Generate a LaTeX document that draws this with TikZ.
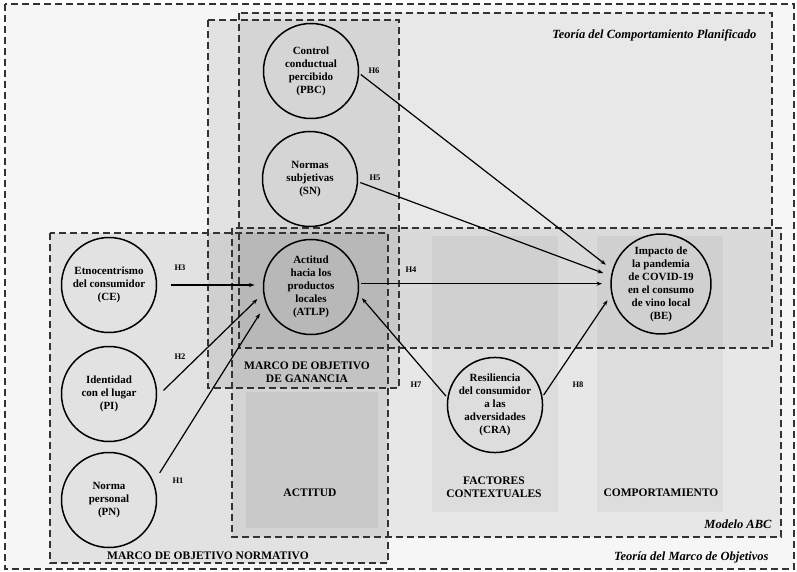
\documentclass[tikz,border=0pt]{standalone}
\usepackage{fontspec}
\setmainfont{Liberation Serif}
\usetikzlibrary{arrows.meta}

\begin{document}
\begin{tikzpicture}[x=1pt,y=-1pt,
    greyfill/.style={fill=black, fill opacity=#1},
    dashbox/.style={draw=black!80, line width=1.1pt, dash pattern=on 7pt off 4pt},
    construct/.style={circle, draw, line width=1.5pt, minimum size=95pt, inner sep=0pt, outer sep=0pt,
      align=center, font=\fontsize{11}{13}\selectfont\bfseries},
    hyp/.style={font=\fontsize{8.5}{10}\selectfont\bfseries},
    caption/.style={align=center, font=\fontsize{11.5}{13.5}\selectfont\bfseries},
    theory/.style={anchor=east, font=\fontsize{12.5}{15}\selectfont\bfseries\itshape},
    arr/.style={-{Stealth[length=5.5pt,width=4pt]}, line width=1.2pt, shorten <=3pt, shorten >=9pt}]

  \useasboundingbox (0,0) rectangle (797,572);
  \fill[white] (0,0) rectangle (797,572);

  % grey areas of the frameworks
  \fill[greyfill=0.035] (5,4) rectangle (794,569);
  \fill[greyfill=0.055] (239,13) rectangle (772,348);
  \fill[greyfill=0.06] (232,228) rectangle (781,537);
  \fill[greyfill=0.08] (208,20) rectangle (399,388);
  \fill[greyfill=0.08] (50,233) rectangle (388,563);
  % columns of the ABC model
  \fill[greyfill=0.05] (246,392) rectangle (378,528);
  \fill[greyfill=0.045] (432,236) rectangle (558,512);
  \fill[greyfill=0.045] (597,236) rectangle (723,512);

  \draw[dashbox] (5,4) rectangle (794,569);      % marco de objetivos
  \draw[dashbox] (239,13) rectangle (772,348);   % comportamiento planificado
  \draw[dashbox] (232,228) rectangle (781,537);  % modelo ABC
  \draw[dashbox] (208,20) rectangle (399,388);   % ganancia
  \draw[dashbox] (50,233) rectangle (388,563);   % normativo

  \node[construct] (PBC) at (311,71) {Control\\conductual\\percibido\\(PBC)};
  \node[construct] (SN) at (310,179) {Normas\\subjetivas\\(SN)};
  \node[construct] (ATLP) at (311,287) {Actitud\\hacia los\\productos\\locales\\(ATLP)};
  \node[construct] (CE) at (109,285) {Etnocentrismo\\del consumidor\\(CE)};
  \node[construct] (PI) at (109,394) {Identidad\\con el lugar\\(PI)};
  \node[construct] (PN) at (109,500) {Norma\\personal\\(PN)};
  \node[construct] (BE) at (661,284) {Impacto de\\la pandemia\\de COVID-19\\en el consumo\\de vino local\\(BE)};
  \node[construct] (CRA) at (495,405) {Resiliencia\\del consumidor\\a las\\adversidades\\(CRA)};

  \draw[arr] (PBC.-2) -- (BE.164);
  \draw[arr] (SN.-3) -- (BE.171);
  \draw[arr] (ATLP.4) -- (ATLP.4 -| BE.west);
  \draw[arr, shorten <=14pt] (CE.east) -- (CE.east -| ATLP.west);
  \draw[arr, shorten <=10pt] (PI.-4) -- (ATLP.187);
  \draw[arr, shorten <=12pt, shorten >=12pt] (PN.21) -- (ATLP.200);
  \draw[arr, shorten >=6pt] (CRA.172) -- (ATLP.-8);
  \draw[arr, shorten >=8pt] (CRA.9) -- (BE.191);

  \node[hyp] (h1) at (178,481) {H1};
  \node[hyp] (h2) at (180,357) {H2};
  \node[hyp] (h3) at (180,268) {H3};
  \node[hyp] (h4) at (411,270) {H4};
  \node[hyp] (h5) at (375,178) {H5};
  \node[hyp] (h6) at (374,71) {H6};
  \node[hyp] (h7) at (416,385) {H7};
  \node[hyp] (h8) at (578,385) {H8};

  \node[caption] (actitud) at (310,493) {ACTITUD};
  \node[caption] (factores) at (494,487) {FACTORES\\CONTEXTUALES};
  \node[caption] (comport) at (661,493) {COMPORTAMIENTO};
  \node[caption] (ganancia) at (307,372) {MARCO DE OBJETIVO\\DE GANANCIA};
  \node[caption] (normativo) at (208,556) {MARCO DE OBJETIVO NORMATIVO};

  \node[theory] (tpb) at (760,35) {Teoría del Comportamiento Planificado};
  \node[theory] (abc) at (775,524) {Modelo ABC};
  \node[theory] (tmo) at (772,557) {Teoría del Marco de Objetivos};
\end{tikzpicture}
\end{document}
